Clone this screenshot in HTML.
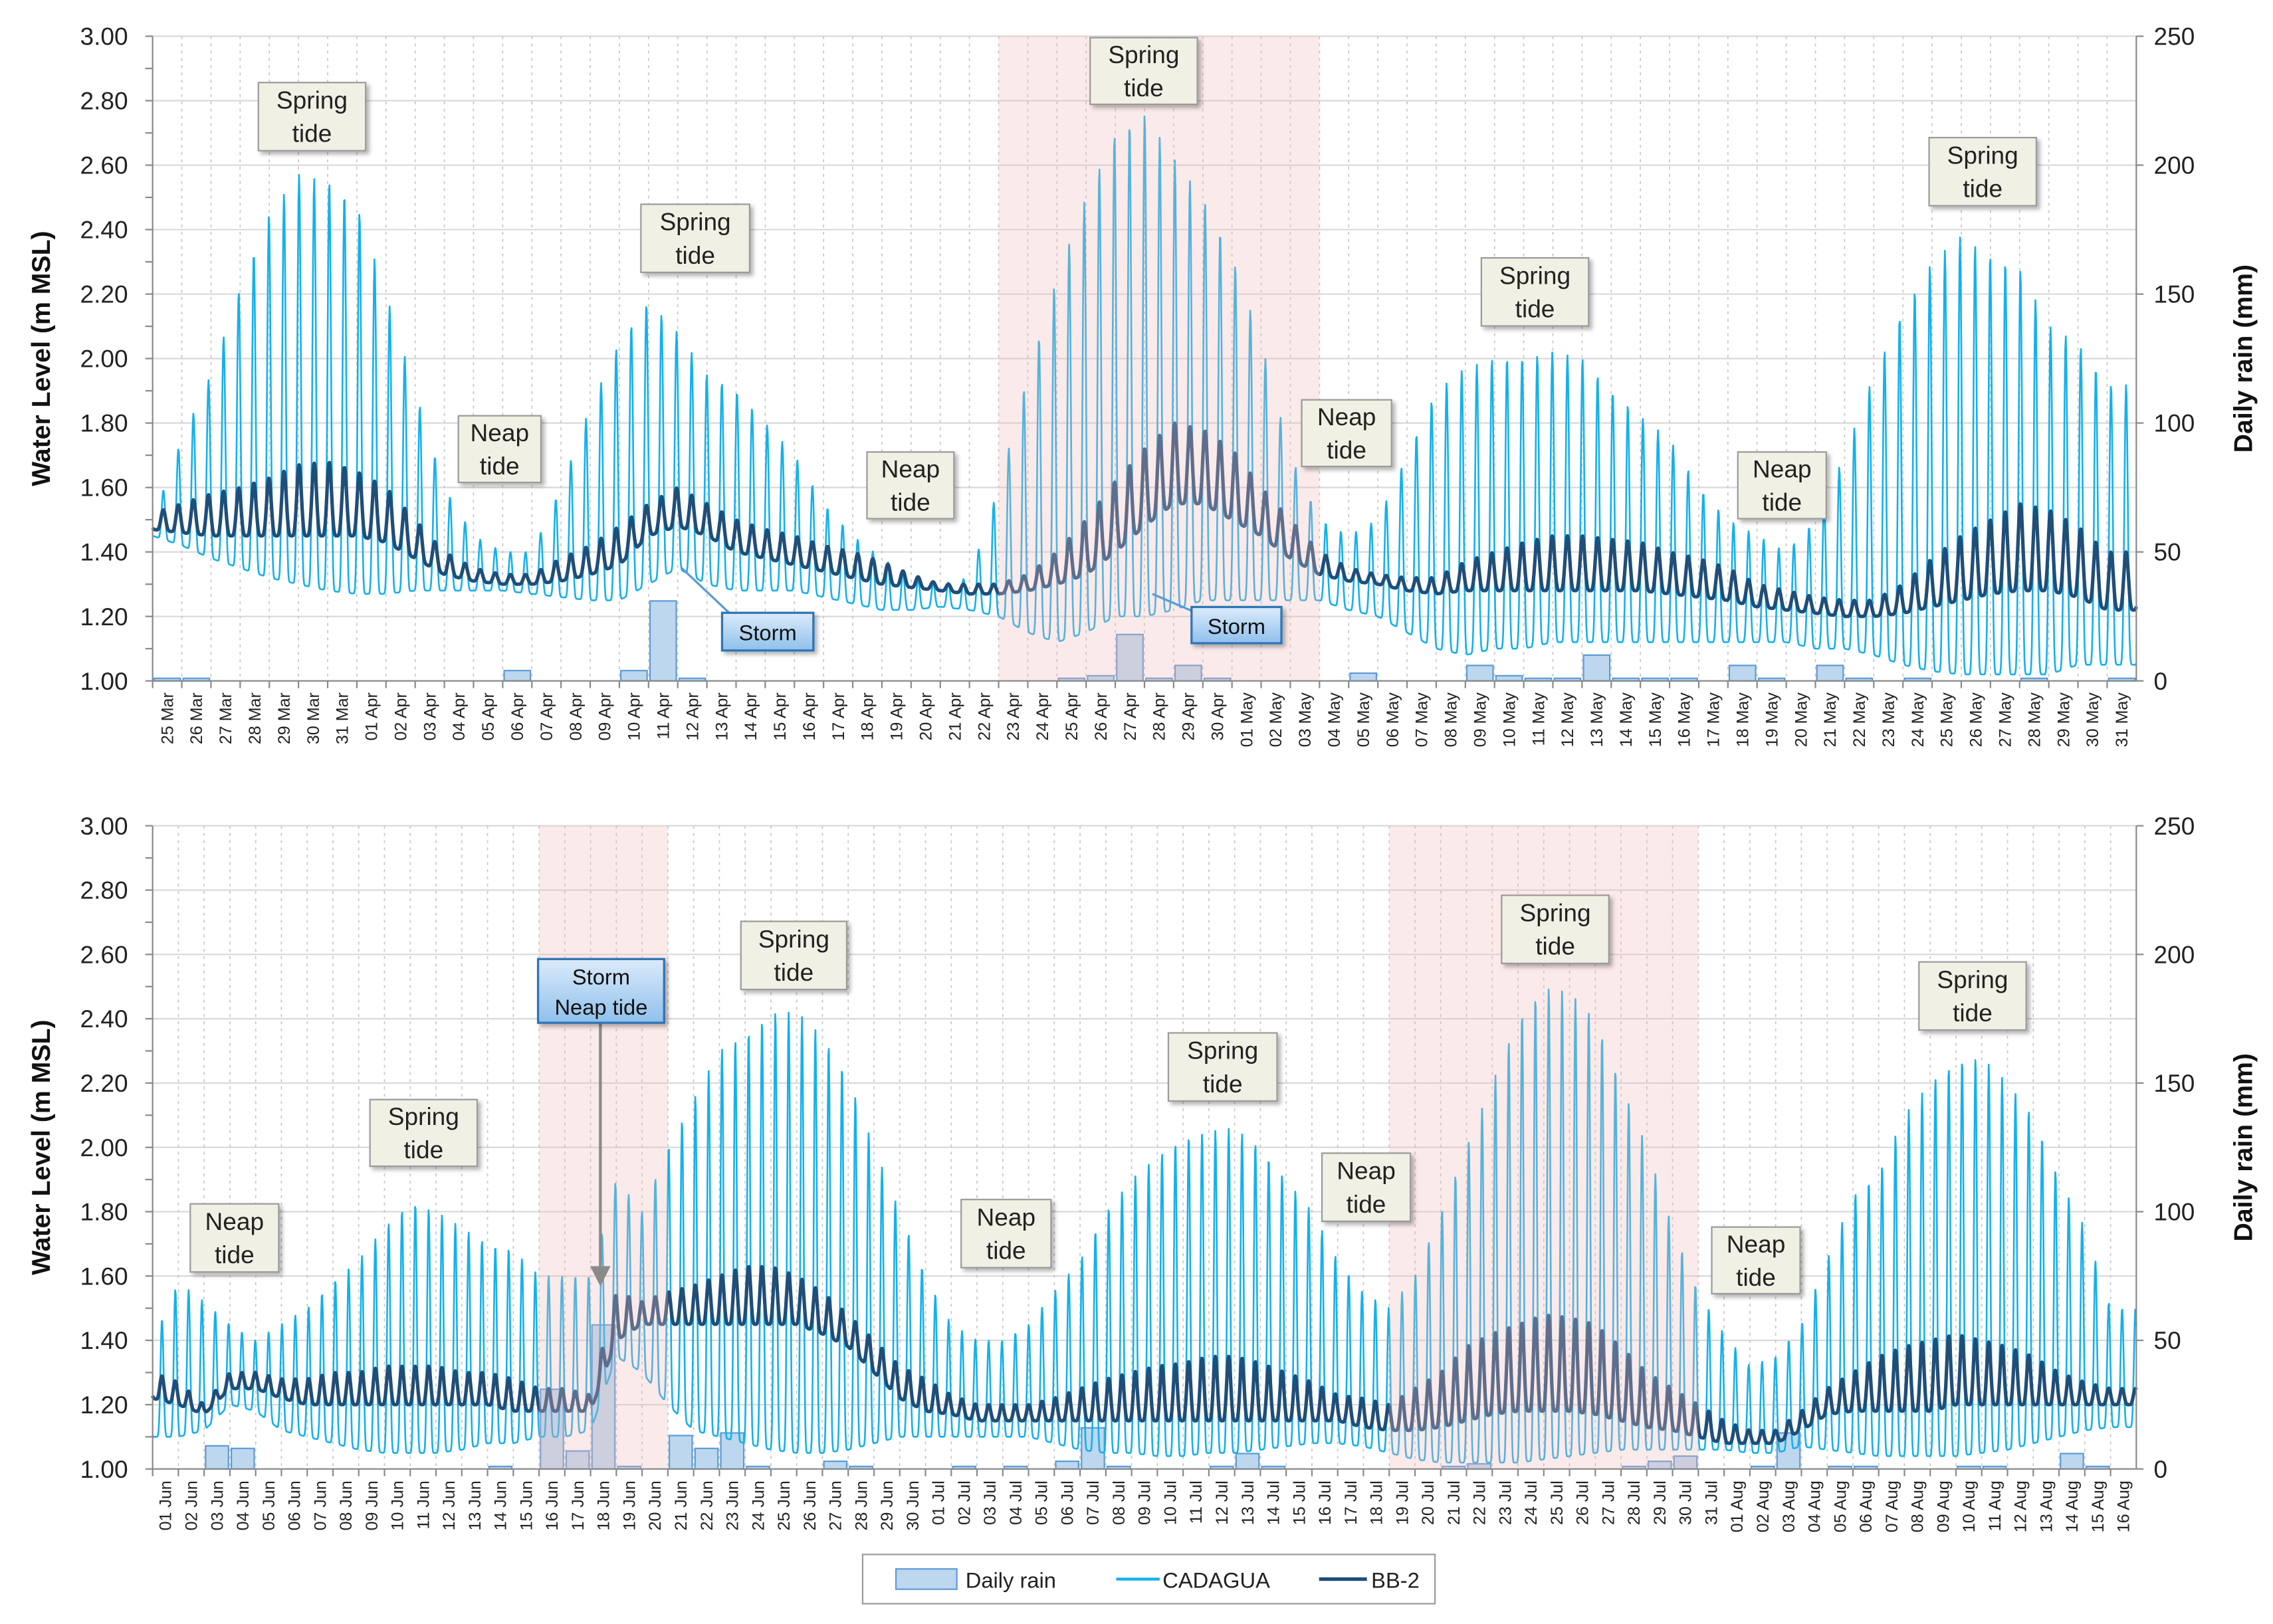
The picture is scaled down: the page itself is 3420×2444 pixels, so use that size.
<!DOCTYPE html>
<html><head><meta charset="utf-8">
<style>
html,body{margin:0;padding:0;background:#fff;}
svg{display:block;font-family:"Liberation Sans",sans-serif;}
</style></head>
<body>
<svg id="chart" width="3420" height="2444" viewBox="0 0 1568 1121" xmlns="http://www.w3.org/2000/svg">
<defs>
<linearGradient id="storm" x1="0" y1="0" x2="0" y2="1"><stop offset="0" stop-color="#dcebfa"/><stop offset="1" stop-color="#8fc0ec"/></linearGradient>
<filter id="sh" x="-20%" y="-20%" width="150%" height="150%"><feDropShadow dx="2" dy="2" stdDeviation="1.5" flood-color="#000" flood-opacity="0.3"/></filter>
</defs>
</svg>
<script>
// ---------- DATA: top panel (25 Mar - 31 May) ----------
const topStart = [2,25]; // month index (0=Jan), day
const topDays = 68;
const topCadMax = [1.5,1.75,1.95,2.22,2.45,2.57,2.55,2.48,2.2,1.9,1.6,1.45,1.4,1.4,1.6,1.85,2.05,2.18,2.08,1.95,1.9,1.8,1.7,1.55,1.45,1.38,1.32,1.3,1.32,1.6,1.95,2.25,2.5,2.7,2.76,2.62,2.5,2.32,2.05,1.7,1.5,1.45,1.5,1.7,1.9,1.97,2.0,2.0,2.02,2.0,1.9,1.82,1.75,1.6,1.5,1.45,1.4,1.5,1.7,1.95,2.15,2.3,2.38,2.32,2.28,2.1,2.05,1.92];
const topCadMin = [1.45,1.42,1.38,1.35,1.32,1.3,1.28,1.27,1.27,1.28,1.28,1.28,1.28,1.27,1.26,1.25,1.25,1.3,1.35,1.3,1.28,1.28,1.28,1.26,1.24,1.22,1.22,1.23,1.22,1.2,1.15,1.12,1.15,1.2,1.2,1.22,1.25,1.25,1.25,1.25,1.25,1.22,1.2,1.15,1.1,1.08,1.1,1.1,1.12,1.12,1.12,1.12,1.12,1.12,1.12,1.12,1.12,1.1,1.1,1.08,1.05,1.03,1.02,1.02,1.02,1.02,1.05,1.05];
const topBBMax = [1.52,1.55,1.58,1.6,1.63,1.67,1.68,1.65,1.6,1.5,1.4,1.35,1.33,1.33,1.38,1.42,1.48,1.55,1.6,1.55,1.5,1.47,1.45,1.42,1.4,1.37,1.33,1.3,1.3,1.3,1.33,1.4,1.5,1.62,1.72,1.8,1.78,1.72,1.6,1.5,1.4,1.35,1.33,1.32,1.32,1.37,1.4,1.43,1.45,1.45,1.44,1.43,1.4,1.38,1.35,1.3,1.28,1.26,1.25,1.25,1.3,1.38,1.45,1.5,1.55,1.53,1.48,1.4];
const topBBMin = [1.47,1.46,1.45,1.45,1.45,1.45,1.45,1.45,1.43,1.38,1.33,1.31,1.3,1.3,1.31,1.33,1.36,1.45,1.48,1.45,1.4,1.38,1.36,1.34,1.32,1.3,1.29,1.28,1.27,1.27,1.28,1.3,1.33,1.4,1.48,1.55,1.55,1.5,1.45,1.38,1.33,1.31,1.3,1.28,1.27,1.28,1.28,1.28,1.28,1.28,1.28,1.28,1.27,1.26,1.25,1.23,1.22,1.21,1.2,1.2,1.21,1.23,1.25,1.27,1.28,1.28,1.26,1.22];
const topRain = [1,1,0,0,0,0,0,0,0,0,0,0,4,0,0,0,4,31,1,0,0,0,0,0,0,0,0,0,0,0,0,1,2,18,1,6,1,0,0,0,0,3,0,0,0,6,2,1,1,10,1,1,1,0,6,1,0,6,1,0,1,0,0,0,1,0,0,1];
const topShade = [[29,40]];
// ---------- DATA: bottom panel (01 Jun - 16 Aug) ----------
const botStart = [5,1];
const botDays = 77;
const botCadMax = [1.4,1.58,1.52,1.45,1.4,1.45,1.5,1.58,1.65,1.75,1.83,1.8,1.75,1.7,1.68,1.6,1.6,1.6,1.9,1.8,2.0,2.15,2.3,2.35,2.42,2.42,2.35,2.22,2.0,1.8,1.6,1.45,1.4,1.4,1.45,1.55,1.65,1.8,1.9,1.97,2.03,2.05,2.06,2.0,1.9,1.8,1.65,1.55,1.5,1.6,1.8,2.0,2.2,2.4,2.5,2.48,2.4,2.2,2.0,1.75,1.55,1.42,1.32,1.35,1.45,1.65,1.85,1.92,2.1,2.2,2.27,2.28,2.2,2.1,1.9,1.75,1.5];
const botCadMin = [1.1,1.1,1.12,1.2,1.18,1.12,1.1,1.08,1.06,1.05,1.05,1.05,1.06,1.08,1.08,1.1,1.1,1.12,1.35,1.3,1.2,1.12,1.1,1.08,1.06,1.05,1.05,1.06,1.08,1.1,1.1,1.1,1.1,1.1,1.1,1.08,1.06,1.05,1.05,1.04,1.04,1.05,1.05,1.06,1.07,1.08,1.08,1.07,1.05,1.03,1.02,1.02,1.02,1.02,1.03,1.04,1.05,1.06,1.06,1.06,1.06,1.06,1.05,1.05,1.07,1.06,1.05,1.04,1.04,1.04,1.04,1.05,1.06,1.08,1.1,1.12,1.13];
const botBBMax = [1.3,1.27,1.2,1.3,1.3,1.28,1.28,1.3,1.3,1.32,1.32,1.32,1.3,1.3,1.28,1.25,1.25,1.23,1.55,1.52,1.55,1.57,1.6,1.63,1.63,1.6,1.55,1.48,1.4,1.32,1.28,1.23,1.2,1.2,1.2,1.22,1.25,1.28,1.3,1.32,1.33,1.35,1.35,1.33,1.3,1.27,1.23,1.22,1.2,1.25,1.3,1.38,1.42,1.45,1.48,1.47,1.45,1.38,1.3,1.25,1.2,1.15,1.12,1.12,1.18,1.25,1.3,1.35,1.38,1.4,1.42,1.4,1.38,1.35,1.3,1.27,1.25];
const botBBMin = [1.22,1.2,1.17,1.25,1.25,1.22,1.2,1.2,1.2,1.2,1.2,1.2,1.2,1.2,1.18,1.18,1.18,1.18,1.4,1.45,1.45,1.45,1.45,1.45,1.45,1.45,1.42,1.38,1.3,1.22,1.18,1.17,1.15,1.15,1.15,1.15,1.15,1.15,1.15,1.15,1.15,1.15,1.15,1.15,1.15,1.15,1.15,1.13,1.12,1.12,1.13,1.15,1.17,1.18,1.18,1.18,1.17,1.15,1.13,1.12,1.1,1.08,1.08,1.08,1.12,1.17,1.18,1.18,1.18,1.18,1.2,1.2,1.2,1.2,1.2,1.2,1.2];
const botRain = [0,0,9,8,0,0,0,0,0,0,0,0,0,1,0,31,7,56,1,0,13,8,14,1,0,0,3,1,0,0,0,1,0,1,0,3,16,1,0,0,0,1,6,1,0,0,0,0,0,0,1,2,0,0,0,0,0,1,3,5,0,0,1,14,0,1,1,0,0,0,1,1,0,0,6,1,0];
const botShade = [[15,20],[48,60]];
const yTicks = [1.0,1.2,1.4,1.6,1.8,2.0,2.2,2.4,2.6,2.8,3.0];
const rainTicks = [0,50,100,150,200,250];
const months = ["Jan","Feb","Mar","Apr","May","Jun","Jul","Aug","Sep","Oct","Nov","Dec"];
const mdays = [31,28,31,30,31,30,31,31,30,31,30,31];

const NS="http://www.w3.org/2000/svg";
const svg=document.getElementById('chart');
function mk(tag,attrs,parent){const e=document.createElementNS(NS,tag);for(const k in attrs)e.setAttribute(k,attrs[k]);(parent||svg).appendChild(e);return e;}

function dateLabels(start,n){const out=[];let m=start[0],d=start[1];for(let i=0;i<n;i++){out.push(String(d).padStart(2,'0')+' '+months[m]);d++;if(d>mdays[m]){d=1;m++;}}return out;}

function panel(name,top,bottom,days,cadMax,cadMin,bbMax,bbMin,rain,shade,start){
  const L=105,R=1474;
  const g=mk('g',{});
  
  
  const x=i=>L+(R-L)*i/days;
  const y=v=>bottom-(v-1)/2*(bottom-top);
  const yr=v=>bottom-v/250*(bottom-top);
  yTicks.forEach(t=>{const l=mk('line',{x1:L,x2:R,y1:y(t),y2:y(t),stroke:'#d9d9d9','stroke-width':1},g);
    });
  for(let i=1;i<days;i++){const l=mk('line',{x1:x(i),x2:x(i),y1:top,y2:bottom,stroke:'#c8c8c8','stroke-width':0.8,'stroke-dasharray':'2,3'},g);
    }
  rain.forEach((r,i)=>{if(r<=0)return;const b=mk('rect',{x:x(i)+1,y:yr(r),width:x(1)-x(0)-2,height:bottom-yr(r),fill:'#bdd7ee',stroke:'#5b9bd5','stroke-width':1},g);
    });
  function series(mx,mn,pw,color,w,nm){
    const N=48;let d='';
    for(let k=0;k<=days*N;k++){const t=k/N;const i=Math.min(days-1,Math.floor(t));const f=t-i;const j=Math.min(days-1,i+1);
      const hi=mx[i]+(mx[j]-mx[i])*f, lo=mn[i]+(mn[j]-mn[i])*f;
      const ph=2*Math.PI*(t*1.932+0.3);const c=Math.pow((1+Math.cos(ph))/2,pw);
      const v=lo+(hi-lo)*c;d+=(k?'L':'M')+x(t).toFixed(2)+','+y(v).toFixed(2);}
    const p=mk('path',{d:d,fill:'none',stroke:color,'stroke-width':w,'stroke-linejoin':'round'},g);
    
  }
  series(cadMax,cadMin,4,'#14b1ec',1.2,'cadagua-line');
  series(bbMax,bbMin,2.2,'#1f4e79',2.4,'bb2-line');
  shade.forEach(s=>{const r=mk('rect',{x:x(s[0]),y:top,width:x(s[1])-x(s[0]),height:bottom-top,fill:'#f2b8b8','fill-opacity':0.3},g);
    });
  mk('line',{x1:L,x2:L,y1:top,y2:bottom,stroke:'#888','stroke-width':1},g);
  mk('line',{x1:R,x2:R,y1:top,y2:bottom,stroke:'#888','stroke-width':1},g);
  mk('line',{x1:L,x2:R,y1:bottom,y2:bottom,stroke:'#888','stroke-width':1},g);
  for(let v=1;v<=3.001;v+=0.1){mk('line',{x1:L-5,x2:L,y1:y(v),y2:y(v),stroke:'#888'},g);}
  yTicks.forEach(t=>{const tx=mk('text',{x:88,y:y(t)+6,'text-anchor':'end','font-size':17,fill:'#222'},g);tx.textContent=t.toFixed(2);
    });
  rainTicks.forEach(t=>{mk('line',{x1:R,x2:R+5,y1:yr(t),y2:yr(t),stroke:'#888'},g);
    const tx=mk('text',{x:1486,y:yr(t)+6,'font-size':17,fill:'#222'},g);tx.textContent=t;
    });
  const labs=dateLabels(start,days);
  labs.forEach((s,i)=>{const cx=x(i+0.5)+4;mk('line',{x1:x(i),x2:x(i),y1:bottom,y2:bottom+5,stroke:'#888'},g);
    const tx=mk('text',{x:cx,y:bottom+8,'text-anchor':'end','font-size':11.5,fill:'#222',transform:`rotate(-90 ${cx} ${bottom+8})`},g);tx.textContent=s;
    });
  const mid=(top+bottom)/2;
  const t1=mk('text',{x:34,y:mid,'text-anchor':'middle','font-size':18,'font-weight':'bold',fill:'#111',transform:`rotate(-90 34 ${mid})`},g);t1.textContent='Water Level (m MSL)';
  
  const t2=mk('text',{x:1554,y:mid,'text-anchor':'middle','font-size':18,'font-weight':'bold',fill:'#111',transform:`rotate(-90 1554 ${mid})`},g);t2.textContent='Daily rain (mm)';
  
}
panel('top-panel',25,470,topDays,topCadMax,topCadMin,topBBMax,topBBMin,topRain,topShade,topStart);
panel('bottom-panel',570,1014,botDays,botCadMax,botCadMin,botBBMax,botBBMin,botRain,botShade,botStart);

function note(x0,y0,x1,y1,lines){
  const g=mk('g',{});
  
  
  mk('rect',{x:x0,y:y0,width:x1-x0,height:y1-y0,fill:'#f1f0e4',stroke:'#9a9a9a','stroke-width':1,filter:'url(#sh)'},g);
  const cx=(x0+x1)/2,cy=(y0+y1)/2;
  lines.forEach((s,k)=>{const t=mk('text',{x:cx,y:cy-5+k*23-(lines.length-1)*11.5+11,'text-anchor':'middle','font-size':17,fill:'#222'},g);t.textContent=s;});
}
function storm(x0,y0,x1,y1,lines,px,py,sx,sy){
  const g=mk('g',{});
  
  
  mk('line',{x1:sx,y1:sy,x2:px,y2:py,stroke:'#5b9bd5','stroke-width':1.5},g);
  mk('rect',{x:x0,y:y0,width:x1-x0,height:y1-y0,fill:'url(#storm)',stroke:'#2e75b6','stroke-width':1.5,filter:'url(#sh)'},g);
  const cx=(x0+x1)/2,cy=(y0+y1)/2;
  lines.forEach((s,k)=>{const t=mk('text',{x:cx,y:cy+6+k*21-(lines.length-1)*10.5,'text-anchor':'middle','font-size':15,fill:'#111'},g);t.textContent=s;});
}
const tl=['Spring','tide'],nl=['Neap','tide'];
note(178,57,252,104,tl);note(316,287,373,333,nl);note(442,141,517,188,tl);note(598,312,658,358,nl);
note(752,26,826,72,tl);note(898,276,960,322,nl);note(1022,178,1096,225,tl);note(1199,312,1260,358,nl);note(1331,95,1405,142,tl);
storm(498,423,561,449,['Storm'],470,392,505,425);
storm(822,419,884,444,['Storm'],795,410,830,425);
note(131,831,192,878,nl);note(255,759,329,805,tl);note(511,636,584,683,tl);note(663,828,725,875,nl);
note(806,713,881,760,tl);note(912,796,973,843,nl);note(1036,618,1110,665,tl);note(1181,847,1242,893,nl);note(1324,664,1398,711,tl);
(function(){const g=mk('g',{});
  mk('line',{x1:414,y1:706,x2:414,y2:876,stroke:'#8a8a8a','stroke-width':2},g);
  mk('polygon',{points:'407,874 421,874 414,888',fill:'#8a8a8a'},g);})();
storm(371,662,458,706,['Storm','Neap tide'],414,700,414,700);

(function(){const g=mk('g',{});
  mk('rect',{x:595,y:1073,width:395,height:34,fill:'#fff',stroke:'#999'},g);
  const r=mk('rect',{x:618,y:1083,width:42,height:14,fill:'#bdd7ee',stroke:'#5b9bd5'},g);
  let t=mk('text',{x:666,y:1096,'font-size':15,fill:'#222'},g);t.textContent='Daily rain';
  mk('line',{x1:770,x2:800,y1:1090,y2:1090,stroke:'#14b1ec','stroke-width':2},g);
  t=mk('text',{x:802,y:1096,'font-size':15,fill:'#222'},g);t.textContent='CADAGUA';
  mk('line',{x1:910,x2:943,y1:1090,y2:1090,stroke:'#1f4e79','stroke-width':2.5},g);
  t=mk('text',{x:946,y:1096,'font-size':15,fill:'#222'},g);t.textContent='BB-2';
})();
</script>
</body></html>
